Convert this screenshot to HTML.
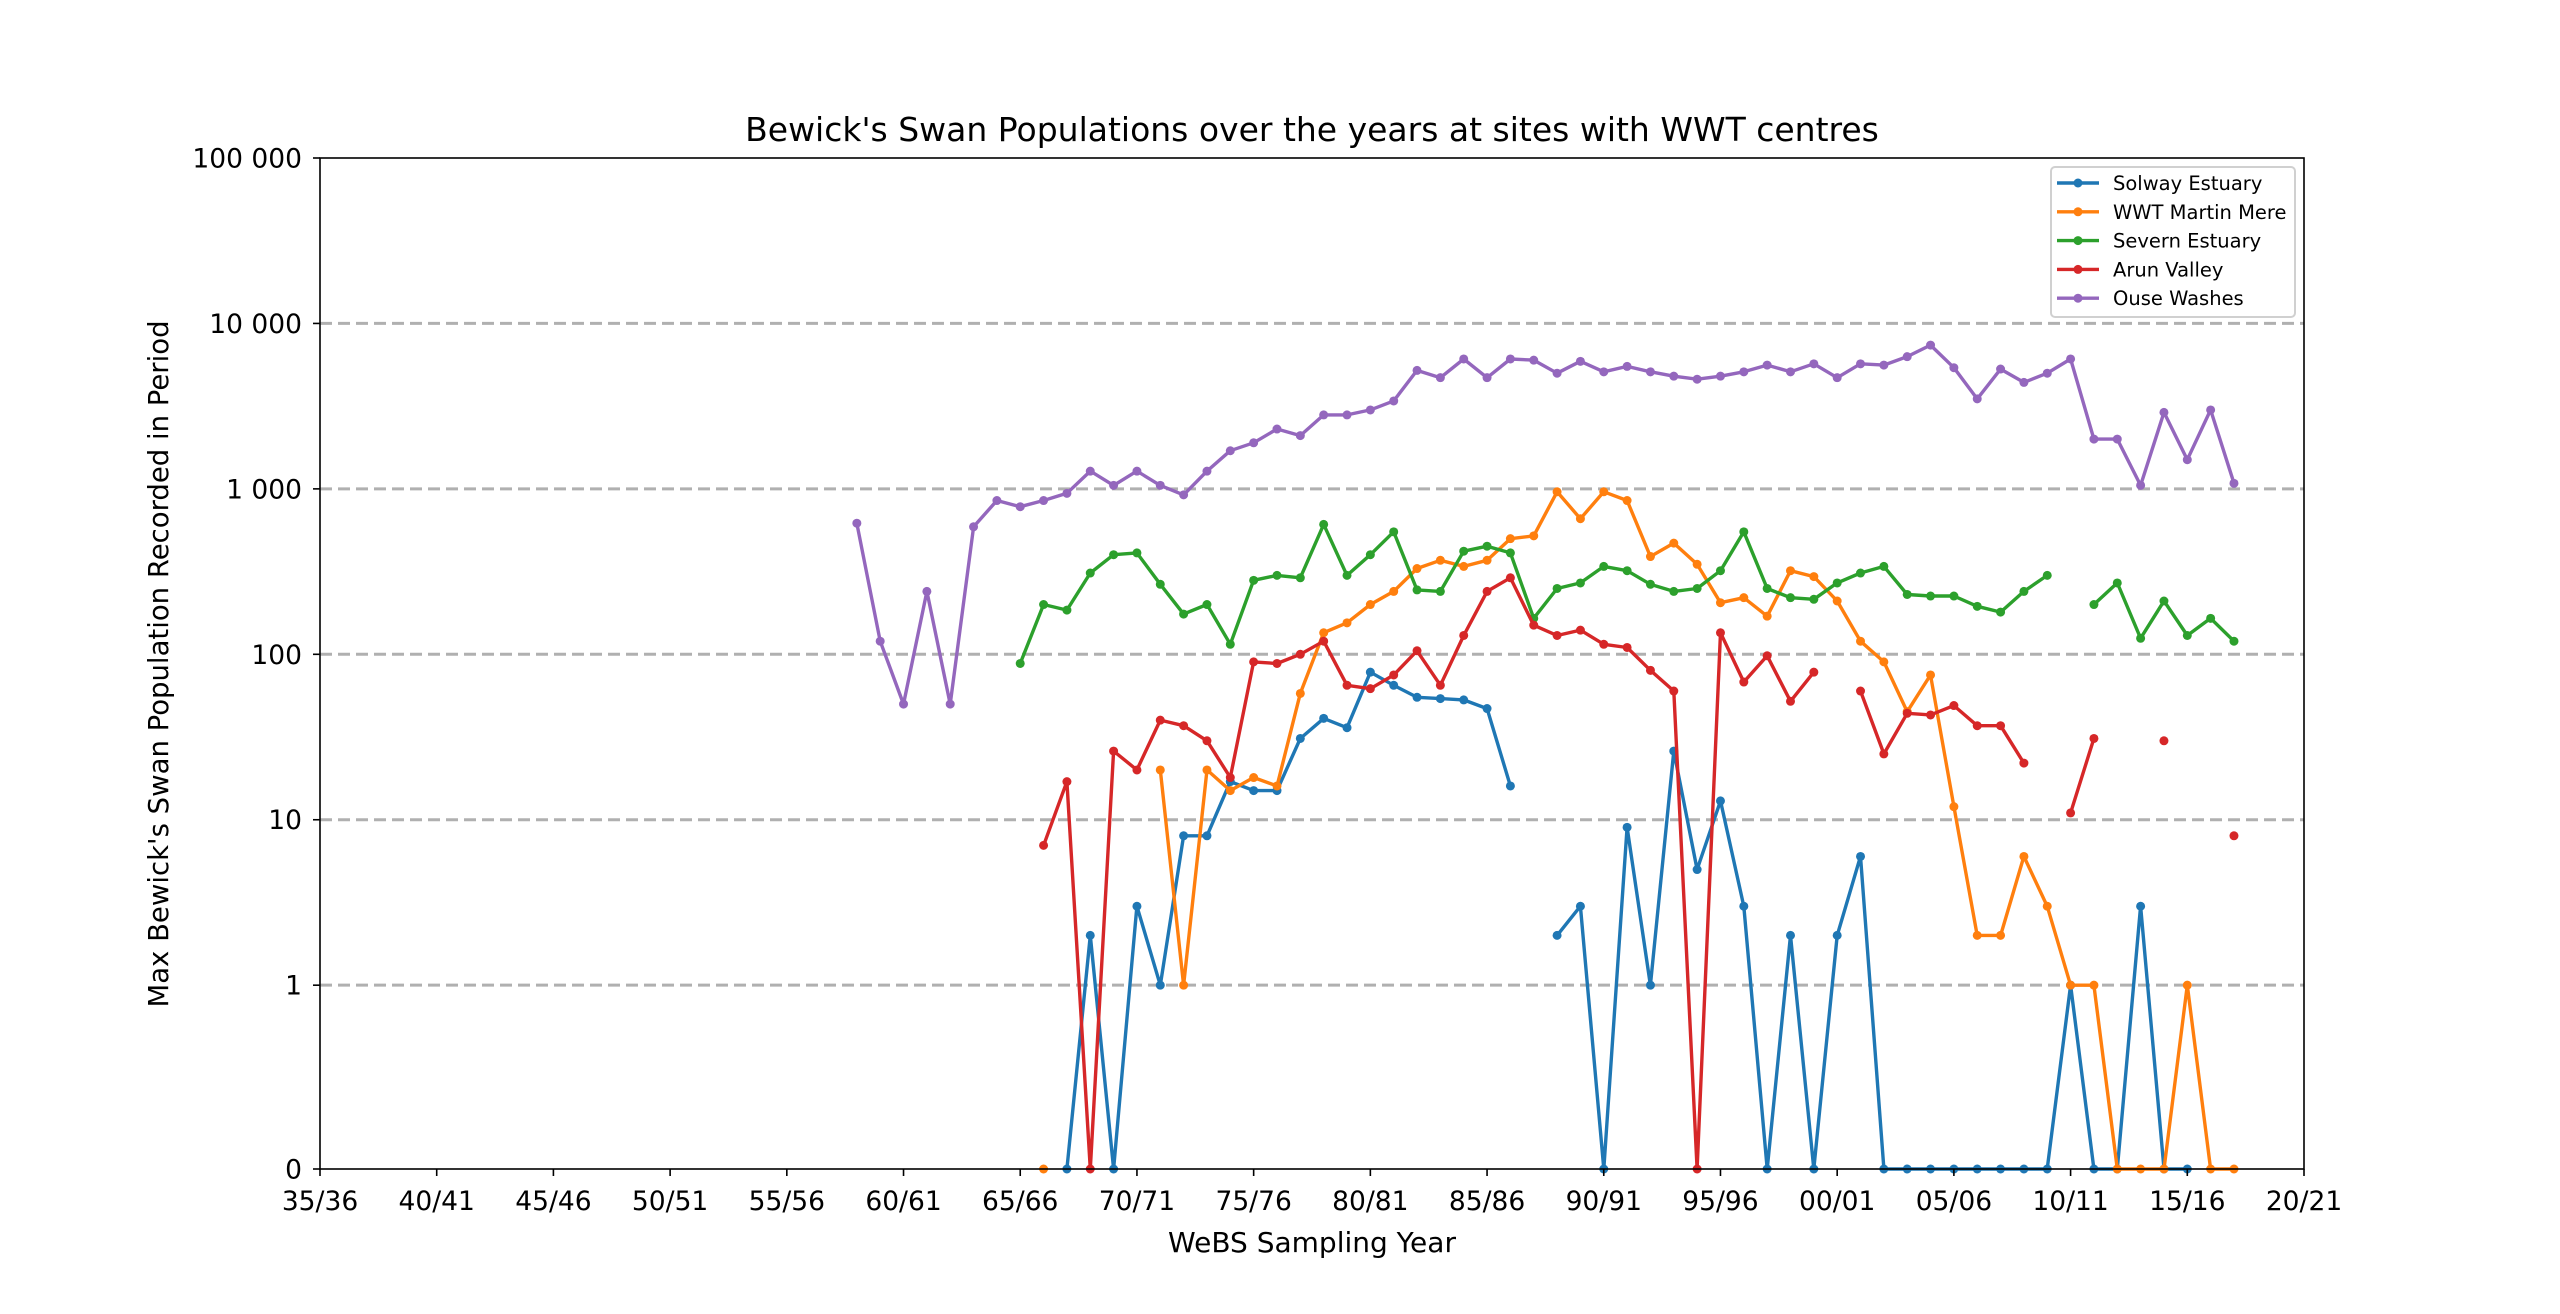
<!DOCTYPE html>
<html><head><meta charset="utf-8"><style>
html,body{margin:0;padding:0;background:#fff;}
svg{display:block;font-family:"DejaVu Sans","Liberation Sans",sans-serif;}
</style></head><body>
<svg id="chart" width="2560" height="1314" viewBox="0 0 2560 1314">
<rect width="2560" height="1314" fill="#fff"/>
<text x="1312" y="141" font-size="33" text-anchor="middle">Bewick's Swan Populations over the years at sites with WWT centres</text>
<text x="1312" y="1252" font-size="28" text-anchor="middle">WeBS Sampling Year</text>
<text transform="translate(168,664) rotate(-90)" font-size="27.5" text-anchor="middle">Max Bewick's Swan Population Recorded in Period</text>
<g id="grid"></g><g id="series"></g><g id="axes"></g><g id="legend"></g>
</svg>
<script>
const years = [];
for (let y = 1958; y <= 2017; y++) years.push(y);
const N = null;
const solway = [N,N,N,N,N,N,N,N,N,0,2,0,3,1,8,8,17,15,15,31,41,36,78,65,55,54,53,47,16,N,2,3,0,9,1,26,5,13,3,0,2,0,2,6,0,0,0,0,0,0,0,0,1,0,0,3,0,0,N,N];
const martin = [N,N,N,N,N,N,N,N,0,N,N,N,N,20,1,20,15,18,16,58,135,155,200,240,330,370,340,370,500,520,960,660,960,850,390,470,350,205,220,170,320,295,210,120,90,45,75,12,2,2,6,3,1,1,0,0,0,1,0,0];
const severn = [N,N,N,N,N,N,N,88,200,185,310,400,410,265,175,200,115,280,300,290,610,300,400,550,245,240,420,450,410,165,250,270,340,320,265,240,250,320,550,250,220,215,270,310,340,230,225,225,195,180,240,300,N,200,270,125,210,130,165,120];
const arun = [N,N,N,N,N,N,N,N,7,17,0,26,20,40,37,30,18,90,88,100,120,65,62,75,105,65,130,240,290,150,130,140,115,110,80,60,0,135,68,98,52,78,N,60,25,44,43,49,37,37,22,N,11,31,N,N,30,N,N,8];
const ouse = [620,120,50,240,50,590,850,780,850,940,1280,1050,1280,1050,920,1280,1700,1900,2300,2100,2800,2800,3000,3400,5200,4700,6100,4700,6100,6000,5000,5900,5100,5500,5100,4800,4600,4800,5100,5600,5100,5700,4700,5700,5600,6300,7400,5400,3500,5300,4400,5000,6100,2000,2000,1050,2900,1500,3000,1080];
const seriesNames = ["Solway Estuary","WWT Martin Mere","Severn Estuary","Arun Valley","Ouse Washes"];
const seriesColors = ["#1f77b4","#ff7f0e","#2ca02c","#d62728","#9467bd"];
const seriesData = [solway, martin, severn, arun, ouse];
const xTickYears = [1935,1940,1945,1950,1955,1960,1965,1970,1975,1980,1985,1990,1995,2000,2005,2010,2015,2020];
const xTickLabels = ["35/36","40/41","45/46","50/51","55/56","60/61","65/66","70/71","75/76","80/81","85/86","90/91","95/96","00/01","05/06","10/11","15/16","20/21"];
const yTickValues = [0,1,10,100,1000,10000,100000];
const yTickLabels = ["0","1","10","100","1 000","10 000","100 000"];

const L=320,R=2304,T=158,B=1169;
const NS="http://www.w3.org/2000/svg";
function xs(y){return L+(y-1935)*(R-L)/85;}
function tr(v){return v<=1? v/0.9 : 1/0.9+Math.log10(v);}
function ys(v){return B-tr(v)*(B-T)/tr(100000);}
function mk(tag,attrs,parent){const e=document.createElementNS(NS,tag);for(const k in attrs)e.setAttribute(k,attrs[k]);parent.appendChild(e);return e;}
const grid=document.getElementById('grid'),axes=document.getElementById('axes'),ser=document.getElementById('series'),leg=document.getElementById('legend');
yTickValues.forEach((v,i)=>{
  const y=ys(v);
  if(v>0&&v<100000){const g=mk('line',{x1:L,x2:R,y1:y,y2:y,stroke:'#b0b0b0','stroke-width':3,'stroke-dasharray':'12 6'},grid);
  
  }
  mk('line',{x1:L-7,x2:L,y1:y,y2:y,stroke:'#000','stroke-width':1.6},axes);
  const t=mk('text',{x:L-18,y:y+9.5,'font-size':26.5,'text-anchor':'end'},axes);t.textContent=yTickLabels[i];
  
  
});
xTickYears.forEach((yr,i)=>{
  const x=xs(yr);
  mk('line',{x1:x,x2:x,y1:B,y2:B+7,stroke:'#000','stroke-width':1.6},axes);
  const t=mk('text',{x:x,y:B+41,'font-size':26.5,'text-anchor':'middle'},axes);t.textContent=xTickLabels[i];
  
  
});
const frame=mk('rect',{x:L,y:T,width:R-L,height:B-T,fill:'none',stroke:'#000','stroke-width':1.6},axes);


seriesData.forEach((data,s)=>{
  const g=mk('g',{},ser);
  
  
  let d='',pen=false;
  data.forEach((v,i)=>{
    if(v===null){pen=false;return;}
    d+=(pen?'L':'M')+xs(years[i]).toFixed(1)+' '+ys(v).toFixed(1)+' ';pen=true;
  });
  mk('path',{d:d,fill:'none',stroke:seriesColors[s],'stroke-width':3.4,'stroke-linejoin':'round'},g);
  data.forEach((v,i)=>{
    if(v===null)return;
    const c=mk('circle',{cx:xs(years[i]),cy:ys(v),r:4.5,fill:seriesColors[s]},g);
    
    
  });
});
const box=mk('rect',{x:2051,y:167,width:244,height:150,rx:4,fill:'#fff','fill-opacity':0.8,stroke:'#d0d0d0','stroke-width':2},leg);


seriesNames.forEach((n,s)=>{
  const y=183+s*28.8;
  const g=mk('g',{},leg);
  
  
  mk('line',{x1:2057,x2:2099,y1:y,y2:y,stroke:seriesColors[s],'stroke-width':3.4},g);
  mk('circle',{cx:2078,cy:y,r:4.5,fill:seriesColors[s]},g);
  const t=mk('text',{x:2113,y:y+7,'font-size':19.5},g);t.textContent=n;
});
</script>
</body></html>
